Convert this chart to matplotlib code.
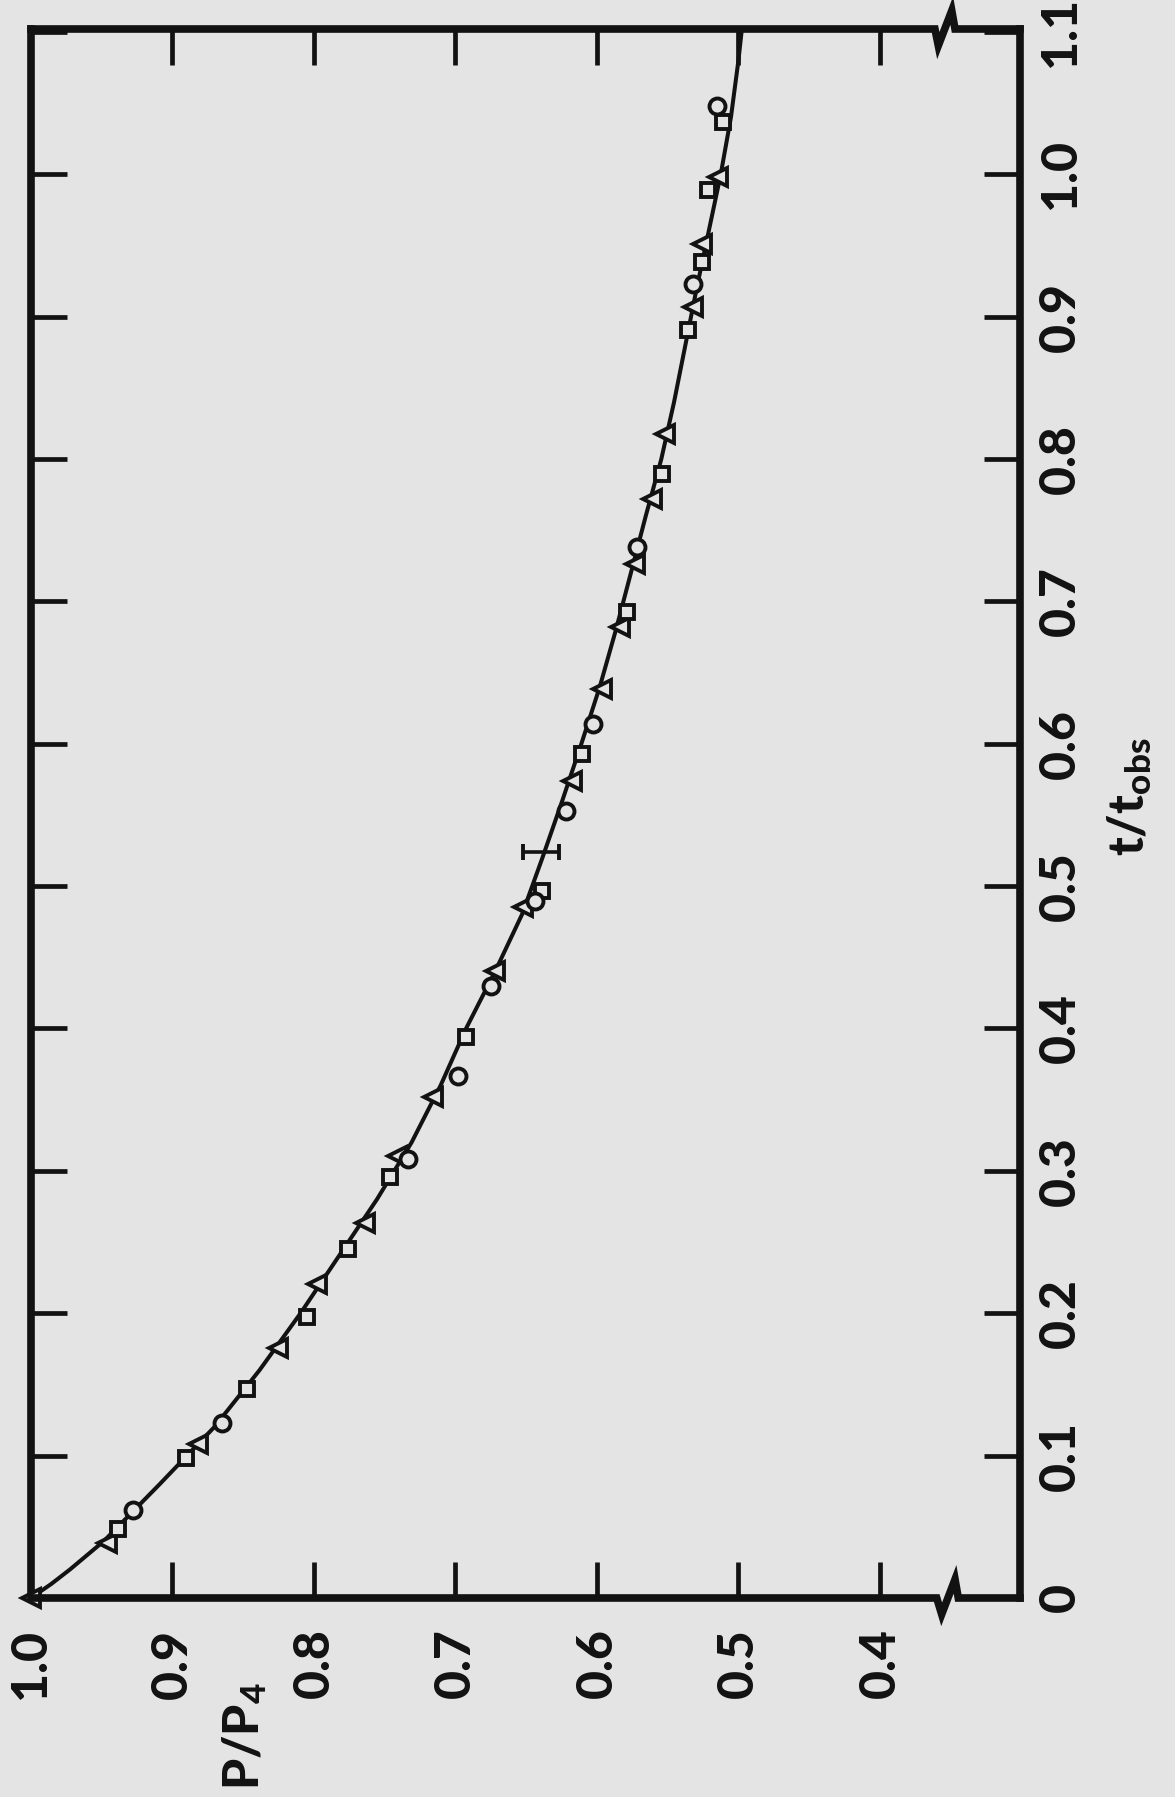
import matplotlib
matplotlib.use("Agg")
import matplotlib.pyplot as plt

plt.rcParams["font.family"] = ["Lato", "DejaVu Sans"]
plt.rcParams["font.weight"] = "bold"
plt.rcParams["mathtext.fontset"] = "custom"
plt.rcParams["mathtext.rm"] = "Lato:black"
plt.rcParams["mathtext.it"] = "Lato:black"
plt.rcParams["mathtext.bf"] = "Lato:black"

# courbe lissée
courbe_t = [0.0, 0.01, 0.02, 0.04, 0.08, 0.12, 0.16, 0.20, 0.24, 0.28, 0.32, 0.36, 0.40, 0.44, 0.48, 0.52,
            0.56, 0.60, 0.64, 0.68, 0.72, 0.76, 0.80, 0.84, 0.88, 0.92, 0.96, 1.00, 1.04, 1.08, 1.10]
courbe_p = [1.000, 0.9855, 0.9725, 0.9485, 0.909, 0.8705, 0.8385, 0.8095, 0.7825, 0.7555, 0.731, 0.7105,
            0.6925, 0.672, 0.653, 0.6385, 0.6245, 0.611, 0.598, 0.5866, 0.576, 0.5655, 0.5545, 0.5455,
            0.5375, 0.5295, 0.521, 0.5125, 0.5053, 0.500, 0.4978]

# mesures : triangles, carrés, cercles
tri_t = [0.0, 0.0389, 0.1081, 0.1755, 0.2204, 0.2637, 0.3106, 0.3521, 0.4406, 0.4851, 0.5741,
         0.6386, 0.6819, 0.7264, 0.7721, 0.8178, 0.9068, 0.9513, 0.9981]
tri_p = [1.0, 0.9465, 0.8818, 0.8252, 0.7981, 0.7640, 0.7416, 0.7157, 0.6721, 0.6523, 0.6179,
         0.5967, 0.5837, 0.5731, 0.5614, 0.5519, 0.5319, 0.5260, 0.5143]

carre_t = [0.0487, 0.0982, 0.1467, 0.1977, 0.2453, 0.2959, 0.3942, 0.4968, 0.5929, 0.6924,
           0.7897, 0.8904, 0.9384, 0.9888, 1.0368]
carre_p = [0.9387, 0.8907, 0.8476, 0.8047, 0.7757, 0.7463, 0.6928, 0.6389, 0.6108, 0.5786,
           0.5543, 0.5355, 0.5260, 0.5213, 0.5107]

cercle_t = [0.0616, 0.1232, 0.3083, 0.3668, 0.4301, 0.4898, 0.5531, 0.6140, 0.7379, 0.9232, 1.0478]
cercle_p = [0.9277, 0.8653, 0.7333, 0.6980, 0.6749, 0.6438, 0.6219, 0.6026, 0.5717, 0.5319, 0.5150]

# barre d'erreur typique
barre_t = [0.5237]
barre_p = [0.6396]
barre_err = [0.0125]

ticks_p = [1.0, 0.9, 0.8, 0.7, 0.6, 0.5, 0.4]
labels_p = ["1.0", "0.9", "0.8", "0.7", "0.6", "0.5", "0.4"]
ticks_t = [0.0, 0.1, 0.2, 0.3, 0.4, 0.5, 0.6, 0.7, 0.8, 0.9, 1.0, 1.1]
labels_t = ["0", "0.1", "0.2", "0.3", "0.4", "0.5", "0.6", "0.7", "0.8", "0.9", "1.0", "1.1"]

fond = "#e4e4e4"
encre = "#121212"

fig = plt.figure(figsize=(11.75, 17.97), dpi=100, facecolor=fond)
ax = fig.add_axes([31 / 1175, 199 / 1797, 989 / 1175, 1569 / 1797])
ax.set_facecolor(fond)

# figure tournée : P/P4 en horizontal (inversé), t/tobs en vertical
ax.plot(courbe_p, courbe_t, color=encre, lw=2.9, zorder=2, solid_capstyle="round")
style = dict(ls="none", mfc=fond, mec=encre, mew=2.8, zorder=3, clip_on=False)
ax.plot(tri_p, tri_t, marker="<", ms=12.5, **style)
ax.plot(carre_p, carre_t, marker="s", ms=10.5, **style)
ax.plot(cercle_p, cercle_t, marker="o", ms=11.5, **style)
ax.errorbar(barre_p, barre_t, xerr=barre_err, fmt="none", ecolor=encre,
            elinewidth=2.6, capsize=5.6, capthick=2.8, zorder=3)

ax.set_xlim(1.0, 0.301)
ax.set_ylim(0, 1.102)

ax.set_xticks(ticks_p)
ax.set_xticklabels(labels_p)
ax.set_yticks(ticks_t)
ax.set_yticklabels(labels_t)

ax.tick_params(axis="both", direction="in", length=26, width=3.4, color=encre,
               top=True, bottom=True, left=True, right=True,
               labelbottom=True, labeltop=False, labelleft=False, labelright=True,
               labelsize=36, labelcolor=encre)
ax.tick_params(axis="x", pad=22)
ax.tick_params(axis="y", pad=13)
for lab in ax.get_xticklabels():
    lab.set_rotation(90)
    lab.set_fontweight("black")
for lab in ax.get_yticklabels():
    lab.set_rotation(90)
    lab.set_va("center")
    lab.set_ha("left")
    lab.set_fontweight("black")

# cadre avec coupures d'axe
for cote in ["left", "right"]:
    ax.spines[cote].set_linewidth(5.5)
    ax.spines[cote].set_color(encre)
ax.spines["top"].set_visible(False)
ax.spines["bottom"].set_visible(False)
cadre = dict(transform=ax.transAxes, clip_on=False, color=encre, lw=5.5,
             solid_capstyle="projecting", solid_joinstyle="miter", zorder=4)
ax.plot([0, 0.9158, 0.9208, 0.9343, 0.9376, 1], [0, 0, -0.0104, 0.0119, 0, 0], **cadre)
ax.plot([0, 0.914, 0.9174, 0.931, 0.9343, 1], [1, 1, 0.9894, 1.0117, 1, 1], **cadre)

fig.text(245 / 1175, 1 - 1736 / 1797, "P/P$_4$", rotation=90, ha="center", va="center",
         fontsize=36, fontweight="black", color=encre)
fig.text(1130 / 1175, 1 - 797 / 1797, "t/t$_{obs}$", rotation=90, ha="center", va="center",
         fontsize=36, fontweight="black", color=encre)

fig.savefig("out.png", dpi=100, facecolor=fond)
